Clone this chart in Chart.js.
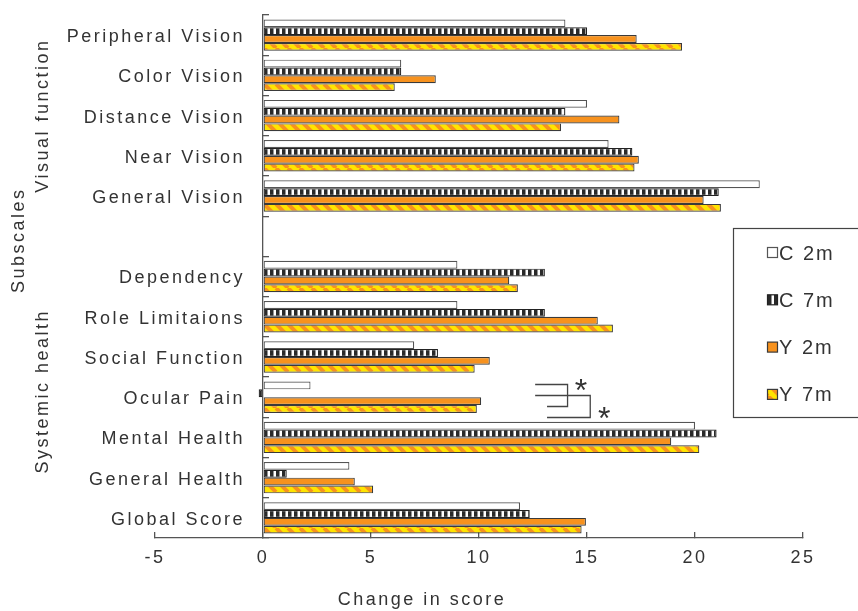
<!DOCTYPE html>
<html><head><meta charset="utf-8">
<script src="https://cdn.jsdelivr.net/npm/chart.js@4"></script>
<style>html,body{margin:0;padding:0;background:#fff}#wrap{width:858px;height:611px}</style>
</head><body><div id="wrap"><canvas id="c" width="858" height="611"></canvas></div>
<script>
const categories = ['Peripheral Vision','Color Vision','Distance Vision','Near Vision','General Vision','',
  'Dependency','Role Limitaions','Social Function','Ocular Pain','Mental Health','General Health','Global Score'];
const seriesNames = ['C 2m','C 7m','Y 2m','Y 7m'];
const c2m = [14.0, 6.4, 15.0, 16.0, 23.0, null, 9.0, 9.0, 7.0, 2.2, 20.0, 4.0, 11.9];
const c7m = [15.0, 6.4, 14.0, 17.1, 21.1, null, 13.05, 13.05, 8.1, -0.2, 21.0, 1.1, 12.35];
const y2m = [17.3, 8.0, 16.5, 17.4, 20.4, null, 11.4, 15.5, 10.5, 10.1, 18.9, 4.25, 14.95];
const y7m = [19.4, 6.1, 13.8, 17.2, 21.2, null, 11.8, 16.2, 9.8, 9.9, 20.2, 5.1, 14.75];
const xTicks = [-5, 0, 5, 10, 15, 20, 25];
const xTitle = 'Change in score';
const yTitle = 'Subscales';
const groupLabels = ['Visual function', 'Systemic health'];
const sigMark = '*';

const FONT = 'Liberation Sans, Arial, sans-serif';
const ORANGE = '#F7921E', YELLOW = '#FFE400', DARK = '#3a3a3a';

function stripePattern() {
  const c = document.createElement('canvas'); c.width = 6; c.height = 8;
  const g = c.getContext('2d');
  g.fillStyle = '#fff'; g.fillRect(0, 0, 6, 8);
  g.fillStyle = '#2a2a2a'; g.fillRect(0, 0, 3.5, 8);
  return g.createPattern(c, 'repeat');
}
function diagPattern() {
  const c = document.createElement('canvas'); c.width = 12; c.height = 12;
  const g = c.getContext('2d');
  g.fillStyle = YELLOW; g.fillRect(0, 0, 12, 12);
  g.strokeStyle = ORANGE; g.lineWidth = 4;
  g.beginPath();
  for (let o = -12; o <= 12; o += 12) { g.moveTo(o, 0); g.lineTo(o + 12, 12); }
  g.stroke();
  return g.createPattern(c, 'repeat');
}

const seriesData = [c2m, c7m, y2m, y7m];
const fills = ['#ffffff', stripePattern(), ORANGE, diagPattern()];
const borders = ['#555', '#222', DARK, DARK];

const datasets = seriesNames.map((n, i) => ({
  label: n, data: seriesData[i], backgroundColor: fills[i], borderColor: borders[i],
  borderWidth: 1.2, borderSkipped: false, categoryPercentage: 0.78, barPercentage: 1.0
}));

const decor = {
  id: 'decor',
  beforeDraw(chart) { chart.ctx.letterSpacing = '2.5px'; },
  afterDraw(chart) {
    const ctx = chart.ctx, ys = chart.scales.y, xs = chart.scales.x;
    ctx.save();
    ctx.fillStyle = '#333';
    ctx.font = '18px ' + FONT;
    ctx.letterSpacing = '2.5px';
    ctx.textAlign = 'center'; ctx.textBaseline = 'middle';
    // x axis title
    ctx.fillText(xTitle, 422, 600);
    // rotated titles
    const rot = (t, x, y) => { ctx.save(); ctx.translate(x, y); ctx.rotate(-Math.PI / 2); ctx.fillText(t, 0, 0); ctx.restore(); };
    rot(yTitle, 19, ys.getPixelForValue(5.1));
    rot(groupLabels[0], 43, ys.getPixelForValue(2.0));
    rot(groupLabels[1], 43, ys.getPixelForValue(8.85));
    // significance brackets (Ocular Pain)
    const k = categories.indexOf('Ocular Pain');
    const yy = [-0.33, -0.055, 0.22, 0.49].map(f => Math.round(ys.getPixelForValue(k + f)) + 0.5);
    const xa = xs.getPixelForValue(12.6), xb = xs.getPixelForValue(13.15);
    const v1 = xs.getPixelForValue(14.1), v2 = xs.getPixelForValue(15.15);
    ctx.strokeStyle = '#444'; ctx.lineWidth = 1.3;
    ctx.beginPath();
    ctx.moveTo(xa, yy[0]); ctx.lineTo(v1, yy[0]); ctx.lineTo(v1, yy[2]); ctx.lineTo(xb, yy[2]);
    ctx.moveTo(xa, yy[1]); ctx.lineTo(v2, yy[1]); ctx.lineTo(v2, yy[3]); ctx.lineTo(xb, yy[3]);
    ctx.stroke();
    ctx.letterSpacing = '0px';
    ctx.font = '32px ' + FONT; ctx.textBaseline = 'alphabetic';
    ctx.fillText(sigMark, xs.getPixelForValue(14.72), yy[0] + 16);
    ctx.fillText(sigMark, xs.getPixelForValue(15.8), yy[2] + 22);
    // legend
    ctx.fillStyle = '#fff'; ctx.strokeStyle = '#444'; ctx.lineWidth = 1.2;
    ctx.fillRect(733.5, 228.5, 130, 189); ctx.strokeRect(733.5, 228.5, 130, 189);
    ctx.font = '20px ' + FONT; ctx.letterSpacing = '2px';
    ctx.textAlign = 'left'; ctx.textBaseline = 'middle';
    chart.data.datasets.forEach((d, i) => {
      const cy = 253 + i * 47.3;
      ctx.fillStyle = d.backgroundColor; ctx.fillRect(767.5, cy - 5.5, 10, 10);
      ctx.strokeStyle = d.borderColor; ctx.lineWidth = 1.2; ctx.strokeRect(767.5, cy - 5.5, 10, 10);
      ctx.fillStyle = '#333'; ctx.fillText(d.label, 779, cy + 1);
    });
    ctx.restore();
  }
};

new Chart(document.getElementById('c'), {
  type: 'bar',
  data: { labels: categories, datasets },
  options: {
    indexAxis: 'y', responsive: false, animation: false, devicePixelRatio: 1,
    layout: { padding: { left: 155, right: 55, top: 15, bottom: 0 } },
    plugins: { legend: { display: false }, tooltip: { enabled: false } },
    scales: {
      x: {
        type: 'linear', min: xTicks[0], max: xTicks[xTicks.length - 1],
        afterBuildTicks(s) { s.ticks = xTicks.map(v => ({ value: v })); },
        afterFit(s) { s.height = 73; s.paddingTop = 0; },
        ticks: { font: { family: FONT, size: 18 }, color: '#333', padding: 15 },
        grid: { drawOnChartArea: false, tickLength: -6, color: '#555', lineWidth: 1.3 },
        border: { color: '#555', width: 1.3 },
        title: { display: false }
      },
      y: {
        type: 'category', position: { x: 0 },
        afterFit(s) { s.paddingTop = 0; s.paddingBottom = 0; },
        afterUpdate(s) {
          if (s._wrapped) return;
          s._wrapped = true;
          const orig = s._computeLabelItems.bind(s);
          s._computeLabelItems = (ca) => orig(ca).map(it => {
            it.options.translation = [it.options.translation[0] - 18, it.options.translation[1] + 2];
            return it;
          });
        },
        ticks: { font: { family: FONT, size: 18 }, color: '#333', padding: 14, autoSkip: false },
        grid: { offset: true, drawOnChartArea: false, tickLength: -7, color: '#555', lineWidth: 1.3 },
        border: { color: '#555', width: 1.3 }
      }
    }
  },
  plugins: [decor]
});
</script></body></html>
